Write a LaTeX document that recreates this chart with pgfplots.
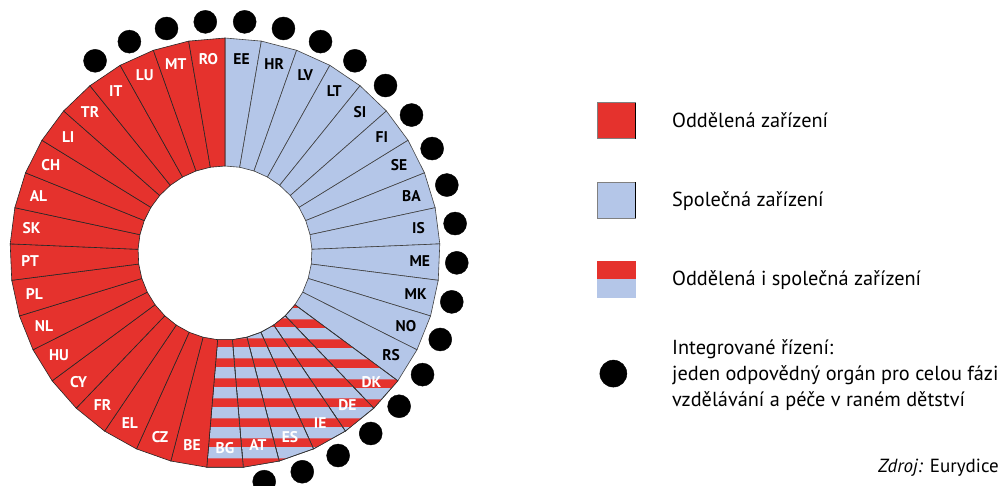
\documentclass[border=0pt]{standalone}
\usepackage{fontspec}
\setmainfont{PT Sans}
\usepackage{pgfplots}
\usepackage{pgfplotstable}
\usepgfplotslibrary{polar}
\usetikzlibrary{patterns}
\pgfplotsset{compat=1.18}
\definecolor{redC}{HTML}{E5322D}
\definecolor{blueC}{HTML}{B4C6E8}
\pgfdeclarepatternformonly{hstripes}{\pgfqpoint{0bp}{0bp}}{\pgfqpoint{200bp}{19.5bp}}{\pgfqpoint{200bp}{19.5bp}}{%
  \pgfpathrectangle{\pgfqpoint{0bp}{0bp}}{\pgfqpoint{200bp}{8.8bp}}\pgfusepath{fill}}
\newcommand\labfont{\bfseries\fontsize{15.5bp}{16bp}\selectfont}
\pgfplotstableread{
k code cat dot w
0 EE B 1 0
1 HR B 1 0
2 LV B 1 0
3 LT B 1 0
4 SI B 1 0
5 FI B 1 0
6 SE B 1 0
7 BA B 1 0
8 IS B 1 0
9 ME B 1 0
10 MK B 1 0
11 NO B 1 0
12 RS B 1 0
13 DK S 1 1
14 DE S 1 1
15 IE S 1 1
16 ES S 1 1
17 AT S 1 1
18 BG S 0 1
19 BE R 0 1
20 CZ R 0 1
21 EL R 0 1
22 FR R 0 1
23 CY R 0 1
24 HU R 0 1
25 NL R 0 1
26 PL R 0 1
27 PT R 0 1
28 SK R 0 1
29 AL R 0 1
30 CH R 0 1
31 LI R 0 1
32 TR R 0 1
33 IT R 1 1
34 LU R 1 1
35 MT R 1 1
36 RO R 1 1
}\countries
\begin{document}
\begin{tikzpicture}
\path[use as bounding box, clip] (0,0) rectangle (1002bp,486bp);
\begin{polaraxis}[
  at={(225bp,233bp)}, anchor=center,
  scale only axis, width=487bp, height=487bp,
  xmin=0, xmax=360, ymin=0, ymax=243.5,
  hide axis, clip=false,
  wedgeR/.style={fill=redC, draw=black!85, line width=0.6bp},
  wedgeB/.style={fill=blueC, draw=black!75, line width=0.6bp},
  wedgeS/.style={preaction={fill=blueC}, pattern=hstripes, pattern color=redC, draw=black!80, line width=0.6bp},
  labels/.style={forget plot, draw=none, nodes near coords, point meta=explicit symbolic,
    unbounded coords=discard, nodes near coords align={center},
    every node near coord/.append style={anchor=center, inner sep=0pt, font=\labfont}},
  legend cell align=left,
  legend style={draw=none, fill=none, at={(1.264,0.81)}, anchor=north west,
    row sep=42bp, column sep=36bp, inner sep=0pt, outer sep=0pt,
    font=\fontsize{20.3bp}{26bp}\selectfont,
    nodes={inner sep=0pt, align=left}},
]
\pgfplotsforeachungrouped \i in {0,...,36}{%
  \pgfplotstablegetelem{\i}{cat}\of\countries
  \let\cat\pgfplotsretval
  \pgfmathsetmacro\ta{90-\i*360/37}%
  \pgfmathsetmacro\tb{90-(\i+1)*360/37}%
  \edef\doplot{\noexpand\addplot[forget plot, wedge\cat] coordinates {(\ta,87) (\ta,215) (\tb,215) (\tb,87)} -- cycle;}%
  \doplot
}
\addplot[labels, every node near coord/.append style={text=white}]
  table[x expr={90-(\thisrow{k}+0.5)*360/37}, y expr={\thisrow{w}>0 ? 195 : nan}, meta=code]{\countries};
\addplot[labels, every node near coord/.append style={text=black}]
  table[x expr={90-(\thisrow{k}+0.5)*360/37}, y expr={\thisrow{w}>0 ? nan : 195}, meta=code]{\countries};
\addplot[forget plot, only marks, mark=*, mark size=11.5bp, black, unbounded coords=discard]
  table[x expr={90-(\thisrow{k}+0.5)*360/37}, y expr={\thisrow{dot}>0 ? 232 : nan}]{\countries};
\addlegendimage{legend image code/.code={\draw[fill=redC, draw=black!50, line width=0.6bp] (0bp,-18bp) rectangle (38bp,18bp); \draw[black, line width=1.5bp] (38bp,-18bp)--(38bp,18bp);}}
\addlegendentry{Oddělená zařízení}
\addlegendimage{legend image code/.code={\draw[fill=blueC, draw=black!50, line width=0.6bp] (0bp,-18bp) rectangle (38bp,18bp); \draw[black, line width=1.5bp] (38bp,-18bp)--(38bp,18bp);}}
\addlegendentry{Společná zařízení}
\addlegendimage{legend image code/.code={\fill[redC] (0bp,0bp) rectangle (38bp,18bp); \fill[blueC] (0bp,-18bp) rectangle (38bp,0bp);}}
\addlegendentry{Oddělená i společná zařízení}
\addlegendimage{legend image code/.code={\fill[black] (16bp,0bp) circle (13.5bp);}}
\addlegendentry{Integrované řízení:\\jeden odpovědný orgán pro celou fázi\\vzdělávání a péče v raném dětství}
\end{polaraxis}
\node[anchor=base west, inner sep=0pt, font=\fontsize{19bp}{22bp}\selectfont] at (878bp,14bp) {\textit{Zdroj:} Eurydice};
\end{tikzpicture}
\end{document}
